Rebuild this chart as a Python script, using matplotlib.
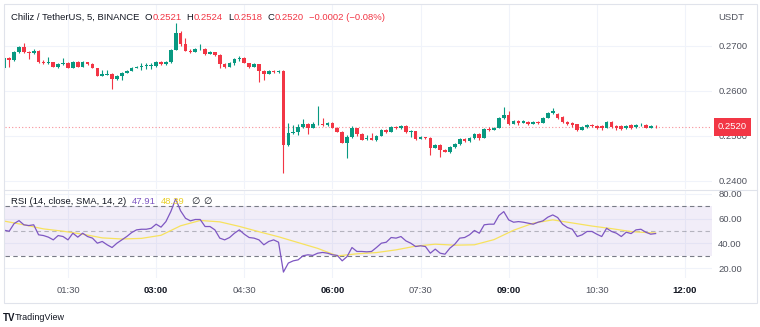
import numpy as np
import matplotlib.pyplot as plt
from matplotlib.lines import Line2D
from matplotlib.patches import Rectangle

plt.rcParams['font.family'] = ['Liberation Sans', 'DejaVu Sans']

symbol = "Chiliz / TetherUS, 5, BINANCE"
first_bar = "00:25"
bar_minutes = 5

# OHLC of the 5 minute bars
open_ = [0.2651, 0.2673, 0.2669, 0.2687, 0.2698, 0.2687, 0.2684, 0.2689, 0.2664, 0.2662,
         0.2664, 0.2653, 0.2660, 0.2662, 0.2651, 0.2664, 0.2653, 0.2664, 0.2660, 0.2651,
         0.2633, 0.2636, 0.2638, 0.2627, 0.2633, 0.2640, 0.2644, 0.2651, 0.2653, 0.2656,
         0.2656, 0.2656, 0.2664, 0.2660, 0.2664, 0.2691, 0.2729, 0.2704, 0.2689, 0.2687,
         0.2693, 0.2693, 0.2682, 0.2687, 0.2680, 0.2660, 0.2653, 0.2662, 0.2671, 0.2673,
         0.2662, 0.2653, 0.2660, 0.2644, 0.2638, 0.2644, 0.2642, 0.2644, 0.2480, 0.2507,
         0.2509, 0.2520, 0.2527, 0.2518, 0.2527, 0.2527, 0.2524, 0.2529, 0.2518, 0.2509,
         0.2484, 0.2498, 0.2518, 0.2504, 0.2493, 0.2496, 0.2491, 0.2500, 0.2513, 0.2509,
         0.2520, 0.2518, 0.2522, 0.2509, 0.2511, 0.2493, 0.2498, 0.2496, 0.2473, 0.2480,
         0.2469, 0.2464, 0.2476, 0.2482, 0.2493, 0.2489, 0.2496, 0.2504, 0.2496, 0.2516,
         0.2513, 0.2518, 0.2540, 0.2547, 0.2527, 0.2533, 0.2529, 0.2531, 0.2527, 0.2531,
         0.2529, 0.2540, 0.2551, 0.2549, 0.2542, 0.2531, 0.2529, 0.2527, 0.2513, 0.2520,
         0.2524, 0.2522, 0.2522, 0.2518, 0.2531, 0.2522, 0.2522, 0.2518, 0.2524, 0.2520,
         0.2524, 0.2524, 0.2518, 0.2521]
high = [0.2676, 0.2676, 0.2689, 0.2700, 0.2707, 0.2689, 0.2693, 0.2691, 0.2669, 0.2676,
        0.2664, 0.2662, 0.2673, 0.2664, 0.2667, 0.2667, 0.2667, 0.2664, 0.2662, 0.2651,
        0.2647, 0.2647, 0.2640, 0.2636, 0.2642, 0.2647, 0.2653, 0.2656, 0.2662, 0.2662,
        0.2662, 0.2667, 0.2667, 0.2667, 0.2693, 0.2751, 0.2733, 0.2718, 0.2693, 0.2696,
        0.2704, 0.2696, 0.2689, 0.2687, 0.2682, 0.2662, 0.2664, 0.2673, 0.2678, 0.2676,
        0.2662, 0.2662, 0.2660, 0.2647, 0.2647, 0.2647, 0.2647, 0.2647, 0.2529, 0.2524,
        0.2527, 0.2538, 0.2529, 0.2531, 0.2567, 0.2540, 0.2531, 0.2531, 0.2520, 0.2511,
        0.2502, 0.2522, 0.2518, 0.2507, 0.2502, 0.2507, 0.2502, 0.2516, 0.2516, 0.2522,
        0.2522, 0.2524, 0.2524, 0.2513, 0.2511, 0.2500, 0.2498, 0.2498, 0.2482, 0.2482,
        0.2471, 0.2478, 0.2484, 0.2496, 0.2496, 0.2498, 0.2507, 0.2507, 0.2518, 0.2520,
        0.2520, 0.2542, 0.2564, 0.2556, 0.2536, 0.2536, 0.2536, 0.2533, 0.2533, 0.2533,
        0.2542, 0.2553, 0.2562, 0.2551, 0.2544, 0.2533, 0.2531, 0.2527, 0.2522, 0.2527,
        0.2527, 0.2524, 0.2524, 0.2533, 0.2533, 0.2524, 0.2524, 0.2524, 0.2527, 0.2527,
        0.2529, 0.2527, 0.2524, 0.2524]
low = [0.2649, 0.2653, 0.2667, 0.2684, 0.2684, 0.2671, 0.2682, 0.2662, 0.2660, 0.2660,
       0.2653, 0.2651, 0.2658, 0.2651, 0.2651, 0.2653, 0.2653, 0.2658, 0.2651, 0.2633,
       0.2633, 0.2636, 0.2604, 0.2624, 0.2624, 0.2640, 0.2644, 0.2651, 0.2647, 0.2649,
       0.2649, 0.2653, 0.2658, 0.2658, 0.2662, 0.2691, 0.2700, 0.2689, 0.2684, 0.2687,
       0.2691, 0.2680, 0.2682, 0.2678, 0.2651, 0.2651, 0.2653, 0.2658, 0.2667, 0.2662,
       0.2651, 0.2653, 0.2620, 0.2624, 0.2638, 0.2640, 0.2640, 0.2418, 0.2478, 0.2504,
       0.2502, 0.2518, 0.2504, 0.2518, 0.2524, 0.2522, 0.2522, 0.2518, 0.2509, 0.2484,
       0.2451, 0.2496, 0.2500, 0.2491, 0.2491, 0.2491, 0.2489, 0.2500, 0.2507, 0.2509,
       0.2516, 0.2516, 0.2507, 0.2498, 0.2491, 0.2493, 0.2493, 0.2458, 0.2473, 0.2453,
       0.2464, 0.2462, 0.2473, 0.2480, 0.2487, 0.2487, 0.2493, 0.2491, 0.2496, 0.2511,
       0.2513, 0.2518, 0.2538, 0.2524, 0.2527, 0.2524, 0.2529, 0.2524, 0.2527, 0.2527,
       0.2529, 0.2540, 0.2549, 0.2538, 0.2529, 0.2524, 0.2520, 0.2511, 0.2513, 0.2518,
       0.2520, 0.2516, 0.2513, 0.2518, 0.2518, 0.2513, 0.2513, 0.2516, 0.2516, 0.2518,
       0.2522, 0.2518, 0.2518, 0.2518]
close = [0.2673, 0.2669, 0.2687, 0.2698, 0.2687, 0.2684, 0.2689, 0.2664, 0.2662, 0.2664,
         0.2653, 0.2660, 0.2662, 0.2651, 0.2664, 0.2653, 0.2664, 0.2660, 0.2651, 0.2633,
         0.2638, 0.2638, 0.2627, 0.2633, 0.2640, 0.2644, 0.2651, 0.2653, 0.2656, 0.2658,
         0.2657, 0.2664, 0.2660, 0.2664, 0.2691, 0.2729, 0.2704, 0.2689, 0.2687, 0.2693,
         0.2693, 0.2682, 0.2687, 0.2680, 0.2660, 0.2653, 0.2662, 0.2671, 0.2673, 0.2662,
         0.2653, 0.2660, 0.2644, 0.2638, 0.2644, 0.2642, 0.2644, 0.2480, 0.2507, 0.2509,
         0.2520, 0.2527, 0.2518, 0.2527, 0.2527, 0.2524, 0.2529, 0.2518, 0.2509, 0.2484,
         0.2498, 0.2518, 0.2504, 0.2491, 0.2496, 0.2491, 0.2500, 0.2513, 0.2509, 0.2520,
         0.2518, 0.2522, 0.2509, 0.2511, 0.2493, 0.2498, 0.2496, 0.2473, 0.2480, 0.2469,
         0.2464, 0.2476, 0.2482, 0.2493, 0.2489, 0.2496, 0.2504, 0.2496, 0.2516, 0.2513,
         0.2518, 0.2540, 0.2547, 0.2527, 0.2533, 0.2529, 0.2533, 0.2527, 0.2531, 0.2529,
         0.2540, 0.2551, 0.2556, 0.2540, 0.2531, 0.2527, 0.2524, 0.2513, 0.2520, 0.2524,
         0.2522, 0.2518, 0.2518, 0.2531, 0.2520, 0.2518, 0.2516, 0.2522, 0.2518, 0.2524,
         0.2524, 0.2518, 0.2522, 0.2520]

# RSI(14) per bar and its SMA(14), the SMA read at every 4th bar plus the last bar
rsi = [50.6, 49.8, 56.0, 58.4, 55.0, 54.4, 55.0, 46.9, 46.3, 45.0,
       42.8, 46.3, 45.5, 42.8, 48.2, 45.0, 48.2, 45.5, 44.2, 40.1,
       41.5, 38.8, 36.6, 40.1, 42.8, 45.5, 48.7, 50.9, 51.4, 51.4,
       52.2, 55.5, 53.1, 57.6, 65.7, 76.0, 66.3, 60.3, 58.2, 59.3,
       59.3, 53.6, 53.6, 50.9, 44.2, 42.8, 44.7, 48.2, 50.9, 47.4,
       44.7, 44.2, 42.8, 38.8, 41.5, 42.8, 40.9, 16.7, 24.0, 25.8,
       26.6, 29.9, 30.7, 30.2, 32.0, 32.6, 32.0, 30.7, 30.2, 25.8,
       29.3, 36.6, 33.4, 33.4, 33.1, 33.4, 36.6, 40.1, 40.9, 44.7,
       44.2, 45.5, 42.0, 40.1, 37.4, 38.0, 37.4, 32.0, 35.3, 32.0,
       31.2, 36.1, 39.3, 44.2, 44.7, 46.9, 50.4, 48.2, 55.0, 55.5,
       55.5, 62.5, 65.7, 59.0, 57.1, 57.6, 57.1, 56.3, 55.5, 57.1,
       58.2, 61.2, 63.0, 60.9, 55.5, 52.8, 51.4, 45.5, 46.9, 49.6,
       49.6, 47.4, 45.5, 52.2, 49.6, 48.2, 45.5, 49.0, 47.9, 50.9,
       51.4, 49.0, 47.4, 47.91]
rsi_sma = [58.0, 55.0, 51.7, 49.8, 47.4, 44.4, 43.5, 44.0, 46.5, 54.2,
           58.5, 57.4, 53.7, 49.4, 45.3, 40.6, 35.9, 29.8, 31.5, 32.5,
           34.7, 37.7, 39.3, 38.5, 38.8, 43.0, 50.6, 56.3, 59.0, 56.5,
           54.0, 51.9, 49.5, 48.5, 48.39]
sma_every = 4

time_ticks = ["01:30", "03:00", "04:30", "06:00", "07:30", "09:00", "10:30", "12:00"]
price_ticks = [0.2400, 0.2500, 0.2600, 0.2700]
rsi_ticks = [20, 40, 60, 80]

GREEN = "#089981"
RED = "#f23645"
PURPLE = "#7e57c2"
YELLOW = "#f7e25e"
TEXT = "#131722"
MUTED = "#50535e"
GRID = "#f0f3fa"
BORDER = "#e0e3eb"
FS = 6.8

W, H = 760, 327


def fx(px):
    return px / W


def fy(py):
    return 1 - py / H


def to_min(s):
    hh, mm = s.split(":")
    return int(hh) * 60 + int(mm)


o, hi, lo, c = (np.array(a) for a in (open_, high, low, close))
t = to_min(first_bar) + bar_minutes * np.arange(len(c))

fig = plt.figure(figsize=(W / 100, H / 100), dpi=100)
ax = fig.add_axes([fx(5), fy(189), fx(712) - fx(5), fy(5) - fy(189)])
ax_rsi = fig.add_axes([fx(5), fy(278), fx(712) - fx(5), fy(190) - fy(278)], sharex=ax)

# candles
up = c >= o
col = np.where(up, GREEN, RED)
ax.vlines(t, lo, hi, colors=col, linewidth=0.8, zorder=3)
body = np.where(np.abs(c - o) < 0.00004, 0.00004, c - o)
ax.bar(t, body, bottom=o, width=3.7, color=col, linewidth=0, zorder=4)
ax.axhline(c[-1], color=RED, alpha=0.55, lw=0.8, ls=(0, (1, 2)), zorder=2)

ax.set_xlim(25.7, 747.6)
ax.set_ylim(0.23822, 0.27911)
ax.set_yticks(price_ticks)
ax.set_yticklabels([f"{p:.4f}" for p in price_ticks])
ax.yaxis.tick_right()
ax.tick_params(axis='y', length=0, pad=4.5, labelsize=FS, labelcolor=MUTED)
ax.tick_params(axis='x', length=0, labelbottom=False)
ax.grid(True, color=GRID, lw=0.8)
ax.set_axisbelow(True)

# last price tag
ax.annotate(f"{c[-1]:.4f}", xy=(1, c[-1]), xycoords=ax.get_yaxis_transform(),
            xytext=(4.2, 0), textcoords='offset points', ha='left', va='center',
            fontsize=FS, color='white', annotation_clip=False, zorder=10,
            bbox=dict(boxstyle='square,pad=0.45', fc=RED, ec='none'))

# RSI pane
ax_rsi.axhspan(30, 70, color=PURPLE, alpha=0.1, lw=0)
ax_rsi.axhline(70, color='#787b86', lw=0.8, ls=(0, (4, 3)))
ax_rsi.axhline(30, color='#787b86', lw=0.8, ls=(0, (4, 3)))
ax_rsi.axhline(50, color='#787b86', lw=0.8, ls=(0, (4, 3)), alpha=0.5)
t_sma = np.r_[t[::sma_every], t[-1]]
ax_rsi.plot(t_sma, rsi_sma, color=YELLOW, lw=0.9, zorder=3)
ax_rsi.plot(t, rsi, color=PURPLE, lw=0.9, zorder=4)

ax_rsi.set_ylim(11.9, 83.2)
ax_rsi.set_yticks(rsi_ticks)
ax_rsi.set_yticklabels([f"{v:.2f}" for v in rsi_ticks])
ax_rsi.yaxis.tick_right()
ax_rsi.tick_params(axis='y', length=0, pad=4.5, labelsize=FS, labelcolor=MUTED)
ax_rsi.set_xticks([to_min(s) for s in time_ticks])
ax_rsi.set_xticklabels(time_ticks)
ax_rsi.tick_params(axis='x', length=0, pad=6, labelsize=FS, labelcolor=MUTED)
for lab in ax_rsi.get_xticklabels():
    if lab.get_text().endswith(":00"):
        lab.set_color(TEXT)
        lab.set_fontweight('bold')
ax_rsi.grid(True, color=GRID, lw=0.8)
ax_rsi.set_axisbelow(True)

for a in (ax, ax_rsi):
    for s in a.spines.values():
        s.set_visible(False)

# frame and pane separator
fig.add_artist(Rectangle((fx(4), fy(303)), fx(757) - fx(4), fy(4) - fy(303),
                         transform=fig.transFigure, fill=False, ec=BORDER, lw=0.8))
fig.add_artist(Line2D([fx(4), fx(757)], [fy(189.5), fy(189.5)],
                      transform=fig.transFigure, color=BORDER, lw=0.8))

renderer = fig.canvas.get_renderer()


def put(px, py, s, colr, **kw):
    txt = fig.text(fx(px), fy(py), s, fontsize=FS, color=colr, va='center', **kw)
    return txt.get_window_extent(renderer).x1


# header legend, pieces chained by their drawn widths
chg = c[-1] - c[-2]
chg_txt = f"{chg:+.4f} ({chg / c[-2] * 100:+.2f}%)".replace("-", "\u2212")
x = put(11, 17, symbol, TEXT)
for letter, val in (("O", o[-1]), ("H", hi[-1]), ("L", lo[-1]), ("C", c[-1])):
    x = put(x + 5, 17, letter, TEXT)
    x = put(x + 0.5, 17, f"{val:.4f}", RED)
put(x + 5, 17, chg_txt, RED)
put(718, 17, "USDT", MUTED)

x = put(11, 202, "RSI (14, close, SMA, 14, 2)", TEXT)
x = put(x + 6, 202, f"{rsi[-1]:.2f}", PURPLE)
x = put(x + 5, 202, f"{rsi_sma[-1]:.2f}", '#e8cf2a')
x = put(x + 6, 202, "\u2205", TEXT)
put(x + 4, 202, "\u2205", TEXT)

# watermark
fig.text(fx(3), fy(318), "TV", fontsize=7, fontweight='bold', color=TEXT, va='center')
fig.text(fx(15), fy(318), "TradingView", fontsize=6.5, color=TEXT, va='center')

fig.savefig("out.png", dpi=100)
